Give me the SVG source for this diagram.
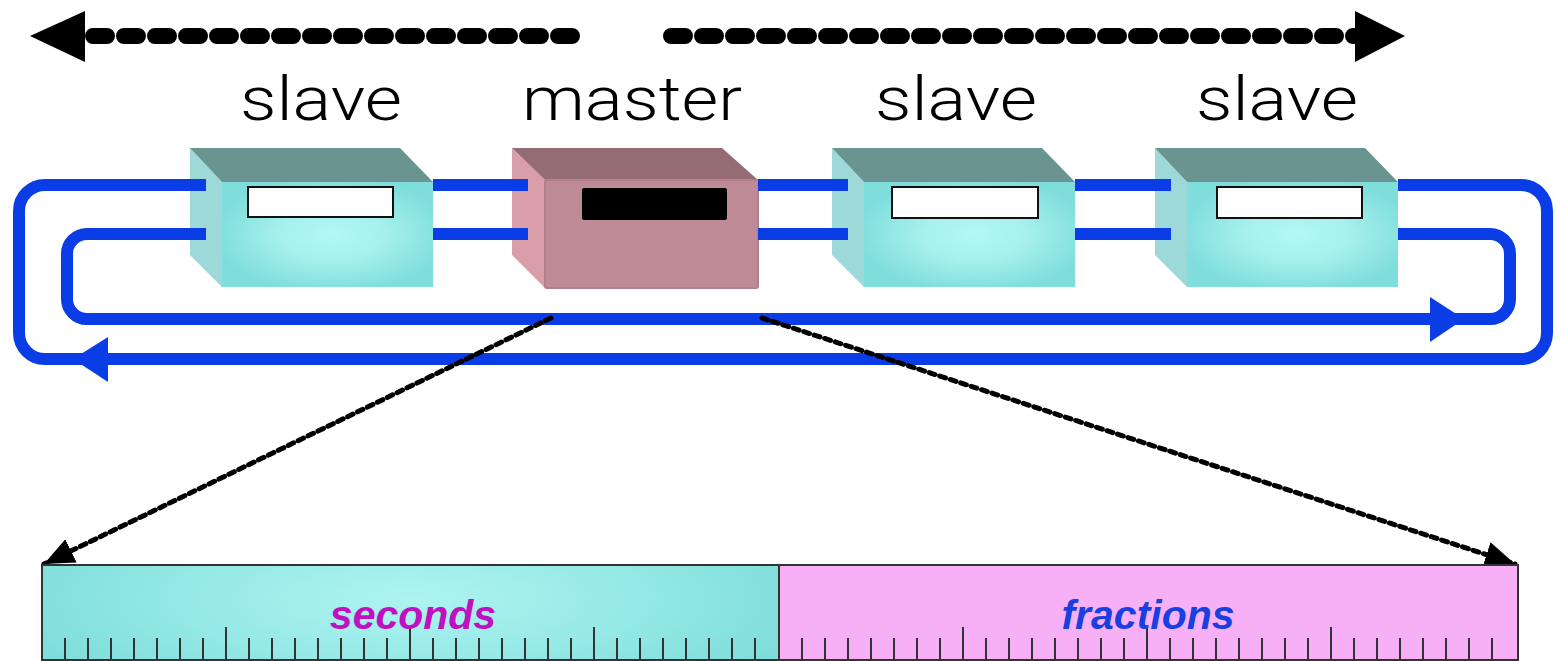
<svg xmlns="http://www.w3.org/2000/svg" width="1558" height="661" viewBox="0 0 1558 661">
<style>
.lbl{font-family:Roboto,"Liberation Sans",Arial,sans-serif;font-weight:300;font-size:61px;fill:#000;text-anchor:middle}
.bar-t{font-family:"Liberation Sans",Arial,sans-serif;font-size:41px;font-weight:bold;font-style:italic;text-anchor:middle}
.s-side{fill:#9ED9D9}
.s-top{fill:#6A9490}
.s-front{fill:url(#cyanFace)}
.win{fill:#fff;stroke:#111;stroke-width:2}
.m-side{fill:#DA9EAB}
.m-top{fill:#956C74}
.m-front{fill:#BE8A95;stroke:#B27F8A;stroke-width:2}
.blue{fill:none;stroke:#0A3DE6;stroke-width:12}
.bluehead{fill:#0A3DE6}
.bigdash{fill:none;stroke:#000;stroke-width:16;stroke-linecap:round;stroke-dasharray:14 17}
.thindash{fill:none;stroke:#000;stroke-width:5;stroke-linecap:round;stroke-dasharray:6 5}
.tick{stroke:#333;stroke-width:2}
</style>
<defs>
<radialGradient id="cyanFace" cx="0.52" cy="0.5" r="0.55">
<stop offset="0" stop-color="#B3F8F5"/>
<stop offset="0.45" stop-color="#A6F0ED"/>
<stop offset="1" stop-color="#7FDEDB"/>
</radialGradient>
<radialGradient id="barCyan" cx="0.5" cy="0.35" r="0.55" gradientTransform="translate(0.5 0.35) scale(1 2.2) translate(-0.5 -0.35)">
<stop offset="0" stop-color="#AEF4F1"/>
<stop offset="0.5" stop-color="#98EAE7"/>
<stop offset="1" stop-color="#7FDEDB"/>
</radialGradient>
<marker id="ah" viewBox="0 0 30 26" refX="30" refY="13" markerWidth="30" markerHeight="26" markerUnits="userSpaceOnUse" orient="auto">
<path d="M0,0 L30,13 L0,26 z" fill="#000"/>
</marker>
</defs>

<g id="top-arrows">
<polygon points="30,36 85,11 85,62" fill="#000"/>
<path class="bigdash" d="M93,36 H576"/>
<path class="bigdash" d="M671,36 H1360"/>
<polygon points="1405,36 1355,11 1355,62" fill="#000"/>
</g>

<g id="labels">
<text class="lbl" x="321" y="120" textLength="162" lengthAdjust="spacingAndGlyphs">slave</text>
<text class="lbl" x="632" y="120" textLength="220" lengthAdjust="spacingAndGlyphs">master</text>
<text class="lbl" x="956" y="120" textLength="162" lengthAdjust="spacingAndGlyphs">slave</text>
<text class="lbl" x="1277" y="120" textLength="162" lengthAdjust="spacingAndGlyphs">slave</text>
</g>

<g id="slave1" transform="translate(190,148)">
<polygon class="s-side" points="0,0 32,34 32,139 0,107"/>
<polygon class="s-top" points="0,0 210,0 243,34 32,34"/>
<rect class="s-front" x="32" y="34" width="211" height="105"/>
<rect class="win" x="58" y="39" width="145" height="30"/>
</g>

<g id="master" transform="translate(512,148)">
<polygon class="m-side" points="0,0 33,32 33,140 0,107"/>
<polygon class="m-top" points="0,0 210,0 246,32 33,32"/>
<rect class="m-front" x="33" y="32" width="213" height="108" rx="2"/>
<rect x="70" y="40" width="145" height="32" rx="2" fill="#000"/>
</g>

<g id="slave2" transform="translate(832,148)">
<polygon class="s-side" points="0,0 32,34 32,139 0,107"/>
<polygon class="s-top" points="0,0 210,0 243,34 32,34"/>
<rect class="s-front" x="32" y="34" width="211" height="105"/>
<rect class="win" x="60" y="39" width="146" height="31"/>
</g>

<g id="slave3" transform="translate(1155,148)">
<polygon class="s-side" points="0,0 32,34 32,139 0,107"/>
<polygon class="s-top" points="0,0 210,0 243,34 32,34"/>
<rect class="s-front" x="32" y="34" width="211" height="105"/>
<rect class="win" x="62" y="39" width="145" height="31"/>
</g>

<g id="connectors">
<path class="blue" d="M206,185 H45 A26,26 0 0 0 19,211 V333 A26,26 0 0 0 45,359 H1521 A26,26 0 0 0 1547,333 V211 A26,26 0 0 0 1521,185 H1398"/>
<path class="blue" d="M1398,234 H1490 A20,20 0 0 1 1510,254 V299 A20,20 0 0 1 1490,319 H87 A20,20 0 0 1 67,299 V254 A20,20 0 0 1 87,234 H206"/>
<path class="blue" d="M433,185 H528 M433,234 H528 M758,185 H848 M758,234 H848 M1075,185 H1171 M1075,234 H1171"/>
<polygon class="bluehead" points="73,359 108,337 108,382"/>
<polygon class="bluehead" points="1464,319 1430,297 1430,342"/>
<path class="thindash" d="M551,318 L44,564" marker-end="url(#ah)"/>
<path class="thindash" d="M762,318 L1515,564" marker-end="url(#ah)"/>
</g>

<g id="bar">
<rect x="42" y="565" width="737" height="95" fill="url(#barCyan)" stroke="#333" stroke-width="2"/>
<rect x="779" y="565" width="739" height="95" fill="#F7B0F5" stroke="#333" stroke-width="2"/>
<g id="ticks">
<path class="tick" d="M65,638V661 M88,638V661 M111,638V661 M134,638V661 M157,638V661 M180,638V661 M203,638V661 M226,627V661 M249,638V661 M272,638V661 M295,638V661 M318,638V661 M341,638V661 M364,638V661 M387,638V661 M410,627V661 M433,638V661 M456,638V661 M479,638V661 M502,638V661 M525,638V661 M548,638V661 M571,638V661 M594,627V661 M617,638V661 M640,638V661 M663,638V661 M686,638V661 M709,638V661 M732,638V661 M755,638V661"/>
<path class="tick" d="M802,638V661 M825,638V661 M848,638V661 M871,638V661 M894,638V661 M917,638V661 M940,638V661 M963,627V661 M986,638V661 M1009,638V661 M1032,638V661 M1055,638V661 M1078,638V661 M1101,638V661 M1124,638V661 M1147,627V661 M1170,638V661 M1193,638V661 M1216,638V661 M1239,638V661 M1262,638V661 M1285,638V661 M1308,638V661 M1331,627V661 M1354,638V661 M1377,638V661 M1400,638V661 M1423,638V661 M1446,638V661 M1469,638V661 M1492,638V661"/>
</g>
<text class="bar-t" x="413" y="629" fill="#C010BF">seconds</text>
<text class="bar-t" x="1148" y="629" fill="#1A3FE0">fractions</text>
</g>
</svg>
